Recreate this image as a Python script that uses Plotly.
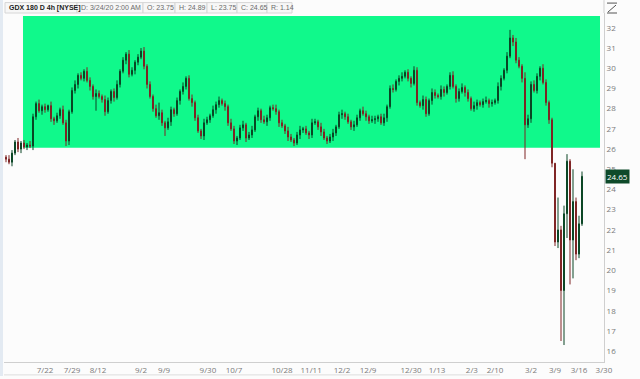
import plotly.graph_objects as go

# ---------------- data ----------------
first_open = 25.60
closes = [
    25.50, 25.35, 25.80, 26.35, 26.00, 26.30, 26.10, 26.20, 26.15, 27.60,
    28.25, 27.90, 28.10, 27.95, 28.15, 27.50, 27.40, 27.65, 27.95, 27.30,
    26.40, 27.85, 28.90, 29.20, 29.65, 29.50, 29.85, 29.40, 29.10, 28.60,
    28.75, 28.60, 28.45, 27.85, 28.40, 28.85, 28.55, 29.20, 29.85, 30.40,
    30.70, 29.70, 29.90, 30.30, 30.55, 30.85, 30.10, 29.20, 28.60, 28.00,
    27.65, 27.80, 27.30, 27.05, 27.35, 27.95, 27.75, 28.40, 28.85, 29.10,
    29.50, 28.50, 28.30, 27.55, 26.90, 26.65, 27.30, 27.45, 27.65, 27.95,
    28.20, 28.40, 28.25, 28.10, 27.30, 27.00, 26.40, 26.55, 27.05, 27.20,
    26.55, 26.70, 26.95, 27.60, 27.90, 27.45, 27.35, 27.55, 28.05, 28.00,
    27.85, 27.30, 27.15, 26.90, 26.60, 26.45, 26.30, 26.70, 26.95, 27.00,
    26.80, 26.70, 27.30, 27.35, 27.10, 26.85, 26.55, 26.40, 26.60, 26.80,
    27.10, 27.70, 27.75, 27.60, 27.35, 27.10, 27.20, 27.55, 27.90, 27.75,
    27.60, 27.40, 27.45, 27.50, 27.60, 27.30, 27.55, 28.10, 29.00, 28.95,
    29.35, 29.50, 29.60, 29.80, 29.50, 29.25, 29.90, 28.30, 28.15, 28.45,
    27.75, 28.40, 28.80, 28.65, 28.60, 28.95, 28.80, 29.10, 29.65, 29.10,
    28.50, 28.85, 29.05, 28.80, 28.50, 28.00, 28.15, 28.30, 28.20, 28.35,
    28.40, 28.25, 28.30, 28.40, 29.10, 29.50, 29.90, 30.60, 31.50, 31.30,
    30.40, 30.10, 29.50, 27.20, 27.50, 29.20, 28.90, 29.60, 30.00, 29.30,
    28.30, 27.45, 25.30, 21.40, 22.00, 19.00, 22.80, 25.40, 21.50, 23.40,
    20.80, 22.30, 24.65,
]
wick_up = [
    0.10, 0.20, 0.15, 0.10, 0.20, 0.10, 0.15, 0.10, 0.20, 0.15,
    0.10, 0.20, 0.10, 0.15, 0.05, 0.20, 0.10, 0.15, 0.10, 0.20,
    0.15, 0.10, 0.15, 0.20, 0.10, 0.15, 0.10, 0.20, 0.15, 0.10,
    0.20, 0.15, 0.10, 0.20, 0.15, 0.10, 0.15, 0.20, 0.10, 0.15,
    0.10, 0.20, 0.15, 0.10, 0.15, 0.15, 0.20, 0.10, 0.15, 0.10,
    0.20, 0.50, 0.15, 0.10, 0.20, 0.15, 0.10, 0.15, 0.10, 0.20,
    0.10, 0.15, 0.20, 0.10, 0.15, 0.10, 0.20, 0.15, 0.10, 0.20,
    0.15, 0.20, 0.10, 0.15, 0.10, 0.20, 0.15, 0.10, 0.15, 0.20,
    0.10, 0.15, 0.20, 0.10, 0.15, 0.10, 0.20, 0.15, 0.10, 0.15,
    0.20, 0.10, 0.15, 0.10, 0.20, 0.15, 0.10, 0.15, 0.20, 0.10,
    0.15, 0.10, 0.20, 0.15, 0.10, 0.20, 0.15, 0.10, 0.15, 0.20,
    0.10, 0.15, 0.20, 0.10, 0.15, 0.10, 0.20, 0.15, 0.10, 0.20,
    0.15, 0.10, 0.20, 0.15, 0.10, 0.15, 0.20, 0.10, 0.15, 0.20,
    0.10, 0.15, 0.20, 0.10, 0.15, 0.10, 0.20, 0.15, 0.10, 0.20,
    0.15, 0.10, 0.20, 0.15, 0.10, 0.20, 0.15, 0.10, 0.15, 0.20,
    0.10, 0.15, 0.20, 0.10, 0.15, 0.10, 0.20, 0.15, 0.10, 0.15,
    0.20, 0.10, 0.15, 0.10, 0.20, 0.15, 0.10, 0.20, 0.40, 0.15,
    0.20, 0.15, 0.10, 0.30, 0.20, 0.15, 0.20, 0.15, 0.10, 0.20,
    0.15, 0.10, 0.10, 0.00, 1.60, 0.20, 0.40, 0.35, 0.10, 1.60,
    0.20, 0.40, 0.24,
]
wick_dn = [
    0.15, 0.10, 0.20, 0.10, 0.15, 0.20, 0.10, 0.15, 0.10, 0.20,
    0.15, 0.10, 0.20, 0.15, 0.10, 0.15, 0.20, 0.10, 0.15, 0.10,
    0.25, 0.20, 0.10, 0.15, 0.20, 0.10, 0.15, 0.10, 0.20, 0.15,
    0.70, 0.10, 0.15, 0.20, 0.10, 0.15, 0.20, 0.10, 0.15, 0.10,
    0.20, 0.15, 0.10, 0.20, 0.15, 0.10, 0.15, 0.20, 0.10, 0.15,
    0.10, 0.20, 0.15, 0.40, 0.10, 0.20, 0.15, 0.10, 0.20, 0.15,
    0.15, 0.10, 0.20, 0.15, 0.10, 0.15, 0.20, 0.10, 0.15, 0.10,
    0.20, 0.15, 0.10, 0.20, 0.15, 0.10, 0.15, 0.20, 0.10, 0.15,
    0.20, 0.10, 0.15, 0.10, 0.20, 0.15, 0.10, 0.20, 0.15, 0.10,
    0.15, 0.20, 0.10, 0.15, 0.20, 0.10, 0.15, 0.10, 0.20, 0.15,
    0.10, 0.20, 0.15, 0.10, 0.15, 0.20, 0.10, 0.15, 0.10, 0.20,
    0.15, 0.10, 0.20, 0.15, 0.10, 0.15, 0.20, 0.10, 0.15, 0.10,
    0.20, 0.15, 0.10, 0.20, 0.15, 0.10, 0.15, 0.20, 0.10, 0.15,
    0.10, 0.20, 0.15, 0.10, 0.15, 0.20, 0.10, 0.15, 0.10, 0.20,
    0.15, 0.10, 0.20, 0.15, 0.10, 0.15, 0.20, 0.10, 0.15, 0.10,
    0.20, 0.15, 0.10, 0.20, 0.15, 0.10, 0.15, 0.20, 0.10, 0.15,
    0.10, 0.20, 0.15, 0.10, 0.15, 0.20, 0.10, 0.15, 0.10, 0.20,
    0.15, 0.10, 0.20, 1.70, 0.15, 0.20, 0.10, 0.15, 0.20, 0.10,
    0.15, 0.20, 0.20, 0.20, 0.30, 2.50, 2.70, 1.20, 2.20, 1.90,
    0.30, 0.20, 0.10,
]
tick_pos = [13, 22, 30.7, 45, 52.7, 67.3, 76, 92, 101.7, 112, 120.7,
            135, 143.7, 155.3, 163, 175, 183, 191, 199.3]
tick_labels = ["7/22", "7/29", "8/12", "9/2", "9/9", "9/30", "10/7", "10/28",
               "11/11", "12/2", "12/9", "12/30", "1/13", "2/3", "2/10",
               "3/2", "3/9", "3/16", "3/30"]
zone_low, zone_high = 26.06, 32.59
zone_x0, zone_x1 = 5.67, 198.0
header_texts = ["GDX 180 D 4h [NYSE]", "D: 3/24/20 2:00 AM", "O: 23.75",
                "H: 24.89", "L: 23.75", "C: 24.65", "R: 1.14"]
last_price = 24.65

# ---------------- derived OHLC ----------------
x = list(range(len(closes)))
opens = [first_open] + closes[:-1]
highs = [max(o, c) + w for o, c, w in zip(opens, closes, wick_up)]
lows = [min(o, c) - w for o, c, w in zip(opens, closes, wick_dn)]

fig = go.Figure()
fig.add_trace(go.Candlestick(
    x=x, open=opens, high=highs, low=lows, close=closes,
    increasing=dict(line=dict(color="#0a4524", width=1), fillcolor="#0a4524"),
    decreasing=dict(line=dict(color="#7e2424", width=1), fillcolor="#7e2424"),
    whiskerwidth=0, showlegend=False, hoverinfo="skip",
))

W, H = 640, 379
L, R, T, B = 4, 36, 13, 14
pw, ph = W - L - R, H - T - B


def px_x(p):
    return (p - L) / pw


def px_y(p):
    return (H - B - p) / ph


shapes = []
# green zone
shapes.append(dict(type="rect", xref="x", yref="y", x0=zone_x0, x1=zone_x1,
                   y0=zone_low, y1=zone_high, fillcolor="#10f98b",
                   line=dict(width=0), layer="below"))
# left strip
shapes.append(dict(type="rect", xref="paper", yref="paper", x0=px_x(0), x1=px_x(3),
                   y0=px_y(379), y1=px_y(0), fillcolor="#e3eaf2",
                   line=dict(width=0), layer="below"))
# right separator line above plot
shapes.append(dict(type="line", xref="paper", yref="paper", x0=1, x1=1,
                   y0=1, y1=px_y(0), line=dict(color="#cfcfcf", width=1)))
# header boxes
box_edges = [5, 77, 143, 175, 207, 237, 267, 292]
for i in range(len(box_edges) - 1):
    shapes.append(dict(type="rect", xref="paper", yref="paper",
                       x0=px_x(box_edges[i]), x1=px_x(box_edges[i + 1]),
                       y0=px_y(13), y1=px_y(2.5), fillcolor="#f7f7f7",
                       line=dict(color="#d6d6d6", width=1)))
# top-right icon
icon_col = "#555555"
shapes.append(dict(type="line", xref="paper", yref="paper", x0=px_x(607), x1=px_x(617),
                   y0=px_y(3), y1=px_y(3), line=dict(color=icon_col, width=1)))
shapes.append(dict(type="line", xref="paper", yref="paper", x0=px_x(607), x1=px_x(617),
                   y0=px_y(13), y1=px_y(13), line=dict(color=icon_col, width=1)))
shapes.append(dict(type="line", xref="paper", yref="paper", x0=px_x(608), x1=px_x(616),
                   y0=px_y(12), y1=px_y(5), line=dict(color=icon_col, width=1)))
# bottom scrollbar hint
shapes.append(dict(type="line", xref="paper", yref="paper", x0=px_x(4), x1=px_x(500),
                   y0=px_y(378), y1=px_y(378), line=dict(color="#dddddd", width=1)))

annotations = []
for i, t in enumerate(header_texts):
    annotations.append(dict(
        xref="paper", yref="paper", x=px_x(box_edges[i] + 2), y=px_y(7.8),
        xanchor="left", yanchor="middle", text=("<b>%s</b>" % t) if i == 0 else t,
        showarrow=False,
        font=dict(family="Liberation Sans", size=7, color="#222222" if i == 0 else "#6a6a6a")))
annotations.append(dict(
    xref="paper", yref="y", x=1.0, y=last_price, xanchor="left", yanchor="middle",
    text="%.2f" % last_price, showarrow=False, xshift=1,
    bgcolor="#0e4a2a", borderpad=1,
    font=dict(family="Open Sans", size=8, color="#ffffff")))

fig.update_layout(
    width=W, height=H,
    margin=dict(l=L, r=R, t=T, b=B, pad=0),
    paper_bgcolor="#fcfcfc", plot_bgcolor="#fcfcfc",
    shapes=shapes, annotations=annotations,
    boxgap=0.55,
    font=dict(family="Open Sans", size=8, color="#7a7a7a"),
    xaxis=dict(range=[-0.667, 199.333], tickvals=tick_pos, ticktext=tick_labels,
               showgrid=False, zeroline=False, showline=True, linecolor="#cfcfcf",
               linewidth=1, ticks="", rangeslider=dict(visible=False),
               tickfont=dict(size=8, color="#7a7a7a"), fixedrange=True),
    yaxis=dict(range=[15.46, 32.736], side="right", dtick=1, tick0=16,
               showgrid=False, zeroline=False, showline=True, linecolor="#cfcfcf",
               linewidth=1, ticks="", tickfont=dict(size=8, color="#7a7a7a"),
               fixedrange=True),
)

fig.write_html("out.html")
